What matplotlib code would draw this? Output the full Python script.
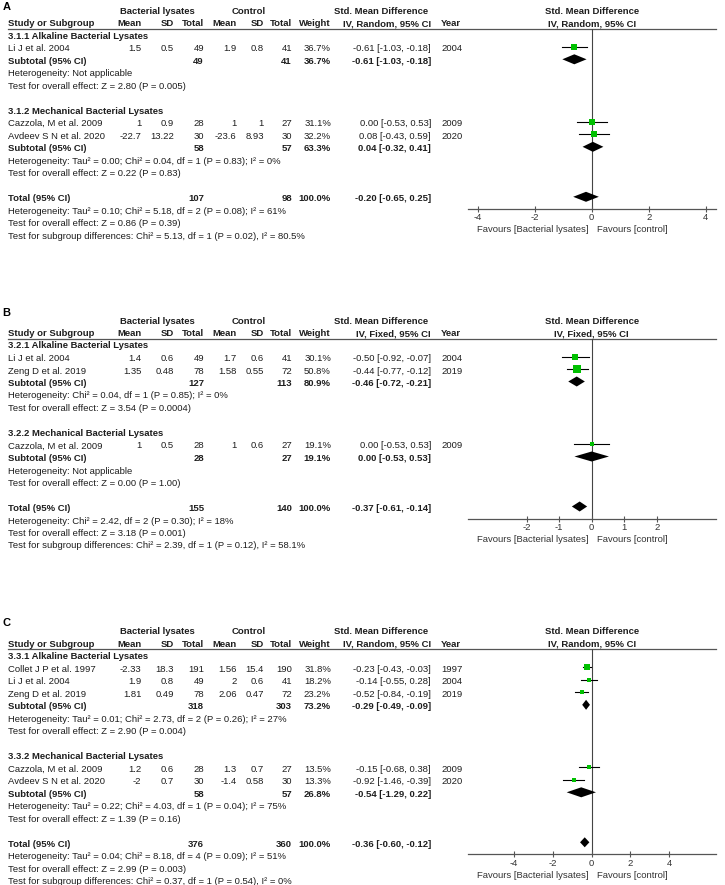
import matplotlib
matplotlib.use('Agg')
import matplotlib.pyplot as plt

plt.rcParams['font.family'] = ['Liberation Sans', 'DejaVu Sans']

# ---------- panel A ----------
a_groups = ['3.1.1 Alkaline Bacterial Lysates', '3.1.2 Mechanical Bacterial Lysates']
a_study = ['Li J et al. 2004', 'Cazzola, M et al. 2009', 'Avdeev S N et al. 2020']
a_grp = [0, 1, 1]
a_e_mean = [1.5, 1, -22.7]
a_e_sd = [0.5, 0.9, 13.22]
a_e_n = [49, 28, 30]
a_c_mean = [1.9, 1, -23.6]
a_c_sd = [0.8, 1, 8.93]
a_c_n = [41, 27, 30]
a_weight = [36.7, 31.1, 32.2]
a_smd = [-0.61, 0.00, 0.08]
a_lo = [-1.03, -0.53, -0.43]
a_hi = [-0.18, 0.53, 0.59]
a_year = [2004, 2009, 2020]
a_sub_e_n = [49, 58]
a_sub_c_n = [41, 57]
a_sub_weight = [36.7, 63.3]
a_sub_smd = [-0.61, 0.04]
a_sub_lo = [-1.03, -0.32]
a_sub_hi = [-0.18, 0.41]
a_sub_het = ['Heterogeneity: Not applicable',
             'Heterogeneity: Tau² = 0.00; Chi² = 0.04, df = 1 (P = 0.83); I² = 0%']
a_sub_test = ['Test for overall effect: Z = 2.80 (P = 0.005)',
              'Test for overall effect: Z = 0.22 (P = 0.83)']
a_total = [107, 98, 100.0, -0.20, -0.65, 0.25]
a_notes = ['Heterogeneity: Tau² = 0.10; Chi² = 5.18, df = 2 (P = 0.08); I² = 61%',
           'Test for overall effect: Z = 0.86 (P = 0.39)',
           'Test for subgroup differences: Chi² = 5.13, df = 1 (P = 0.02), I² = 80.5%']
a_ticks = [-4, -2, 0, 2, 4]

# ---------- panel B ----------
b_groups = ['3.2.1 Alkaline Bacterial Lysates', '3.2.2 Mechanical Bacterial Lysates']
b_study = ['Li J et al. 2004', 'Zeng D et al. 2019', 'Cazzola, M et al. 2009']
b_grp = [0, 0, 1]
b_e_mean = [1.4, 1.35, 1]
b_e_sd = [0.6, 0.48, 0.5]
b_e_n = [49, 78, 28]
b_c_mean = [1.7, 1.58, 1]
b_c_sd = [0.6, 0.55, 0.6]
b_c_n = [41, 72, 27]
b_weight = [30.1, 50.8, 19.1]
b_smd = [-0.50, -0.44, 0.00]
b_lo = [-0.92, -0.77, -0.53]
b_hi = [-0.07, -0.12, 0.53]
b_year = [2004, 2019, 2009]
b_sub_e_n = [127, 28]
b_sub_c_n = [113, 27]
b_sub_weight = [80.9, 19.1]
b_sub_smd = [-0.46, 0.00]
b_sub_lo = [-0.72, -0.53]
b_sub_hi = [-0.21, 0.53]
b_sub_het = ['Heterogeneity: Chi² = 0.04, df = 1 (P = 0.85); I² = 0%',
             'Heterogeneity: Not applicable']
b_sub_test = ['Test for overall effect: Z = 3.54 (P = 0.0004)',
              'Test for overall effect: Z = 0.00 (P = 1.00)']
b_total = [155, 140, 100.0, -0.37, -0.61, -0.14]
b_notes = ['Heterogeneity: Chi² = 2.42, df = 2 (P = 0.30); I² = 18%',
           'Test for overall effect: Z = 3.18 (P = 0.001)',
           'Test for subgroup differences: Chi² = 2.39, df = 1 (P = 0.12), I² = 58.1%']
b_ticks = [-2, -1, 0, 1, 2]

# ---------- panel C ----------
c_groups = ['3.3.1 Alkaline Bacterial Lysates', '3.3.2 Mechanical Bacterial Lysates']
c_study = ['Collet J P et al. 1997', 'Li J et al. 2004', 'Zeng D et al. 2019',
           'Cazzola, M et al. 2009', 'Avdeev S N et al. 2020']
c_grp = [0, 0, 0, 1, 1]
c_e_mean = [-2.33, 1.9, 1.81, 1.2, -2]
c_e_sd = [18.3, 0.8, 0.49, 0.6, 0.7]
c_e_n = [191, 49, 78, 28, 30]
c_c_mean = [1.56, 2, 2.06, 1.3, -1.4]
c_c_sd = [15.4, 0.6, 0.47, 0.7, 0.58]
c_c_n = [190, 41, 72, 27, 30]
c_weight = [31.8, 18.2, 23.2, 13.5, 13.3]
c_smd = [-0.23, -0.14, -0.52, -0.15, -0.92]
c_lo = [-0.43, -0.55, -0.84, -0.68, -1.46]
c_hi = [-0.03, 0.28, -0.19, 0.38, -0.39]
c_year = [1997, 2004, 2019, 2009, 2020]
c_sub_e_n = [318, 58]
c_sub_c_n = [303, 57]
c_sub_weight = [73.2, 26.8]
c_sub_smd = [-0.29, -0.54]
c_sub_lo = [-0.49, -1.29]
c_sub_hi = [-0.09, 0.22]
c_sub_het = ['Heterogeneity: Tau² = 0.01; Chi² = 2.73, df = 2 (P = 0.26); I² = 27%',
             'Heterogeneity: Tau² = 0.22; Chi² = 4.03, df = 1 (P = 0.04); I² = 75%']
c_sub_test = ['Test for overall effect: Z = 2.90 (P = 0.004)',
              'Test for overall effect: Z = 1.39 (P = 0.16)']
c_total = [376, 360, 100.0, -0.36, -0.60, -0.12]
c_notes = ['Heterogeneity: Tau² = 0.04; Chi² = 8.18, df = 4 (P = 0.09); I² = 51%',
           'Test for overall effect: Z = 2.99 (P = 0.003)',
           'Test for subgroup differences: Chi² = 0.37, df = 1 (P = 0.54), I² = 0%']
c_ticks = [-4, -2, 0, 2, 4]

W, H = 725, 885
FS = 6.8
TXT = '#1e1e1e'
GRAY = '#555555'
GREEN = '#00c000'
ROW = 12.5
# right edges of the numeric columns (pixels)
COLS = [141.5, 174, 204, 236.5, 264, 292]
X_W, X_CI, X_YEAR = 331, 431, 441
PX0, PX1, PX_ZERO = 468, 716, 591.7


def ci_text(m, lo, hi):
    return '%.2f [%.2f, %.2f]' % (m, lo, hi)


def num(v):
    return format(v, 'g')


def diamond(pax, y, m, lo, hi, h=5):
    pax.fill([lo, m, hi, m], [y, y - h, y, y + h], color='black', lw=0)


def draw_panel(ax, fig, top, label, label_y, method, groups, study, grp,
               e_mean, e_sd, e_n, c_mean, c_sd, c_n, weight, smd, lo, hi, year,
               sub_e_n, sub_c_n, sub_w, sub_smd, sub_lo, sub_hi, sub_het, sub_test,
               total, notes, half, ticks):
    def ry(r):
        return top + r * ROW

    ax.text(2.5, label_y, label, fontsize=8, fontweight='bold', color='black', va='center')
    kw = dict(fontsize=FS, color=TXT, va='center')
    bkw = dict(kw, fontweight='bold')
    # header line 1
    ax.text(157.3, ry(0), 'Bacterial lysates', ha='center', **bkw)
    ax.text(249, ry(0), 'Control', ha='center', **bkw)
    ax.text(381, ry(0), 'Std. Mean Difference', ha='center', **bkw)
    ax.text(PX_ZERO, ry(0), 'Std. Mean Difference', ha='center', **bkw)
    # header line 2
    ax.text(8.3, ry(1), 'Study or Subgroup', ha='left', **bkw)
    for x, s in zip(COLS, ['Mean', 'SD', 'Total', 'Mean', 'SD', 'Total']):
        ax.text(x, ry(1), s, ha='right', **bkw)
    ax.text(X_W, ry(1), 'Weight', ha='right', **bkw)
    ax.text(X_CI, ry(1), 'IV, %s, 95%% CI' % method, ha='right', **bkw)
    ax.text(X_YEAR, ry(1), 'Year', ha='left', **bkw)
    ax.text(PX_ZERO, ry(1), 'IV, %s, 95%% CI' % method, ha='center', **bkw)
    y_line = top + 17.5
    ax.plot([8, PX1], [y_line, y_line], color=GRAY, lw=0.9)

    # rows
    rows = []
    r = 2
    for g in range(len(groups)):
        ax.text(8.3, ry(r), groups[g], ha='left', **bkw)
        r += 1
        for i in range(len(study)):
            if grp[i] != g:
                continue
            y = ry(r)
            ax.text(8.3, y, study[i], ha='left', **kw)
            vals = [num(e_mean[i]), num(e_sd[i]), str(e_n[i]),
                    num(c_mean[i]), num(c_sd[i]), str(c_n[i])]
            for x, s in zip(COLS, vals):
                ax.text(x, y, s, ha='right', **kw)
            ax.text(X_W, y, '%.1f%%' % weight[i], ha='right', **kw)
            ax.text(X_CI, y, ci_text(smd[i], lo[i], hi[i]), ha='right', **kw)
            ax.text(X_YEAR, y, str(year[i]), ha='left', **kw)
            rows.append(('study', i, y))
            r += 1
        y = ry(r)
        ax.text(8.3, y, 'Subtotal (95% CI)', ha='left', **bkw)
        ax.text(COLS[2], y, str(sub_e_n[g]), ha='right', **bkw)
        ax.text(COLS[5], y, str(sub_c_n[g]), ha='right', **bkw)
        ax.text(X_W, y, '%.1f%%' % sub_w[g], ha='right', **bkw)
        ax.text(X_CI, y, ci_text(sub_smd[g], sub_lo[g], sub_hi[g]), ha='right', **bkw)
        rows.append(('sub', g, y))
        r += 1
        ax.text(8.3, ry(r), sub_het[g], ha='left', **kw)
        r += 1
        ax.text(8.3, ry(r), sub_test[g], ha='left', **kw)
        r += 2
    y_tot = ry(r)
    ax.text(8.3, y_tot, 'Total (95% CI)', ha='left', **bkw)
    ax.text(COLS[2], y_tot, str(total[0]), ha='right', **bkw)
    ax.text(COLS[5], y_tot, str(total[1]), ha='right', **bkw)
    ax.text(X_W, y_tot, '%.1f%%' % total[2], ha='right', **bkw)
    ax.text(X_CI, y_tot, ci_text(total[3], total[4], total[5]), ha='right', **bkw)
    for k, s in enumerate(notes):
        ax.text(8.3, ry(r + 1 + k), s, ha='left', **kw)

    # forest plot area
    y_axis = y_tot + 10
    pax = fig.add_axes([PX0 / W, 1 - y_axis / H, (PX1 - PX0) / W, (y_axis - y_line) / H])
    pax.set_facecolor('none')
    pax.set_xlim(-half, half * (PX1 - PX_ZERO) / (PX_ZERO - PX0))
    pax.set_ylim(y_axis, y_line)
    for s in ['top', 'left', 'right']:
        pax.spines[s].set_visible(False)
    pax.spines['bottom'].set_color(GRAY)
    pax.spines['bottom'].set_linewidth(0.9)
    pax.set_yticks([])
    pax.set_xticks(ticks)
    pax.set_xticklabels([str(t) for t in ticks])
    pax.tick_params(axis='x', direction='inout', length=5, width=0.8, color=GRAY,
                    labelsize=FS, labelcolor='#333333', pad=0.8)
    pax.axvline(0, color='#444444', lw=0.8, zorder=1)

    for kind, i, y in rows:
        ym = y - 2
        if kind == 'study':
            pax.plot([lo[i], hi[i]], [ym, ym], color='black', lw=0.8, zorder=2)
            side = 1.5 + 0.13 * weight[i]
            pax.plot([smd[i]], [ym], marker='s', ms=side * 0.72, color=GREEN,
                     mec=GREEN, mew=0, zorder=3)
        else:
            diamond(pax, ym, sub_smd[i], sub_lo[i], sub_hi[i])
    diamond(pax, y_tot - 2, total[3], total[4], total[5])

    fy = y_axis + 21
    ax.text(588.3, fy, 'Favours [Bacterial lysates]', ha='right', va='center',
            fontsize=FS, color='#333333')
    ax.text(596.7, fy, 'Favours [control]', ha='left', va='center',
            fontsize=FS, color='#333333')


fig = plt.figure(figsize=(W / 100, H / 100), dpi=100)
ax = fig.add_axes([0, 0, 1, 1])
ax.set_xlim(0, W)
ax.set_ylim(H, 0)
ax.axis('off')

draw_panel(ax, fig, 11.3, 'A', 7, 'Random', a_groups, a_study, a_grp,
           a_e_mean, a_e_sd, a_e_n, a_c_mean, a_c_sd, a_c_n, a_weight, a_smd, a_lo, a_hi, a_year,
           a_sub_e_n, a_sub_c_n, a_sub_weight, a_sub_smd, a_sub_lo, a_sub_hi, a_sub_het, a_sub_test,
           a_total, a_notes, 4.34, a_ticks)
draw_panel(ax, fig, 321, 'B', 313.5, 'Fixed', b_groups, b_study, b_grp,
           b_e_mean, b_e_sd, b_e_n, b_c_mean, b_c_sd, b_c_n, b_weight, b_smd, b_lo, b_hi, b_year,
           b_sub_e_n, b_sub_c_n, b_sub_weight, b_sub_smd, b_sub_lo, b_sub_hi, b_sub_het, b_sub_test,
           b_total, b_notes, 3.8, b_ticks)
draw_panel(ax, fig, 631.8, 'C', 623, 'Random', c_groups, c_study, c_grp,
           c_e_mean, c_e_sd, c_e_n, c_c_mean, c_c_sd, c_c_n, c_weight, c_smd, c_lo, c_hi, c_year,
           c_sub_e_n, c_sub_c_n, c_sub_weight, c_sub_smd, c_sub_lo, c_sub_hi, c_sub_het, c_sub_test,
           c_total, c_notes, 6.38, c_ticks)

plt.savefig('out.png', dpi=100)
